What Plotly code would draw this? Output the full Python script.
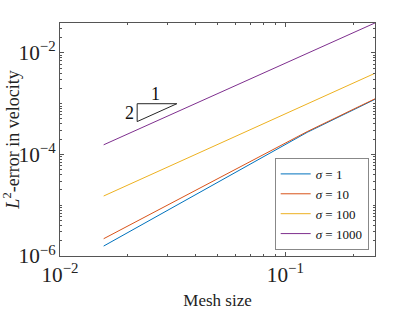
import plotly.graph_objects as go
import numpy as np

h = [1/64, 1/32, 1/16, 1/8, 1/4]
err_s1 = [1.57e-6, 8.76e-6, 4.89e-5, 2.73e-4, 1.22e-3]
err_s10 = [2.19e-6, 1.106e-5, 5.59e-5, 2.82e-4, 1.25e-3]
err_s100 = [1.52e-5, 6.1e-5, 2.45e-4, 9.9e-4, 3.98e-3]
err_s1000 = [1.55e-4, 6.2e-4, 2.45e-3, 9.8e-3, 3.9e-2]
labels = ["<i>σ</i> = 1", "<i>σ</i> = 10", "<i>σ</i> = 100", "<i>σ</i> = 1000"]
colors = ["#0072BD", "#D95319", "#EDB120", "#7E2F8E"]

tri_x = [0.022, 0.033, 0.022, 0.022]
tri_y = [1.0e-3, 1.0e-3, 1.0e-3 / 2.25, 1.0e-3]

FONT = "Liberation Serif"
fig = go.Figure()
for y, lab, c in zip([err_s1, err_s10, err_s100, err_s1000], labels, colors):
    fig.add_trace(go.Scatter(x=h, y=y, mode="lines", name=lab,
                             line=dict(color=c, width=1)))
fig.add_trace(go.Scatter(x=tri_x, y=tri_y, mode="lines", showlegend=False,
                         line=dict(color="#262626", width=1)))
fig.add_annotation(x=np.log10(0.0264), y=np.log10(1.55e-3), text="1", showarrow=False,
                   font=dict(family=FONT, size=18, color="#111"))
fig.add_annotation(x=np.log10(0.0203), y=np.log10(6.7e-4), text="2", showarrow=False,
                   font=dict(family=FONT, size=18, color="#111"))

axcommon = dict(type="log", showgrid=False, zeroline=False, showline=True,
                linecolor="#555", linewidth=1, mirror="ticks", ticks="inside",
                ticklen=4, tickcolor="#555", exponentformat="power", automargin=False,
                tickfont=dict(family=FONT, size=17, color="#222"))
fig.update_xaxes(**axcommon, range=[-2, np.log10(0.25)], dtick=1,
                 minor=dict(ticks="inside", ticklen=2, dtick="D1", tickcolor="#555"),
                 title=dict(text="Mesh size", font=dict(family=FONT, size=17, color="#222"), standoff=8))
fig.update_yaxes(**axcommon, range=[-6, -1.41], dtick=2,
                 minor=dict(ticks="inside", ticklen=2, dtick="D1", tickcolor="#555"),
                 title=dict(text="<i>L</i><sup>2</sup>-error in velocity",
                            font=dict(family=FONT, size=18, color="#222"), standoff=5))
fig.update_layout(width=415, height=312, margin=dict(l=60, r=40, t=23, b=56),
                  paper_bgcolor="white", plot_bgcolor="white",
                  legend=dict(x=0.98, y=0.026, xanchor="right", yanchor="bottom",
                              bgcolor="white", bordercolor="#888", borderwidth=1,
                              font=dict(family=FONT, size=13, color="#111"),
                              itemwidth=30, tracegroupgap=0))
fig.write_html("out.html", post_script="document.body.style.margin='0';",
               config={"displayModeBar": False})
